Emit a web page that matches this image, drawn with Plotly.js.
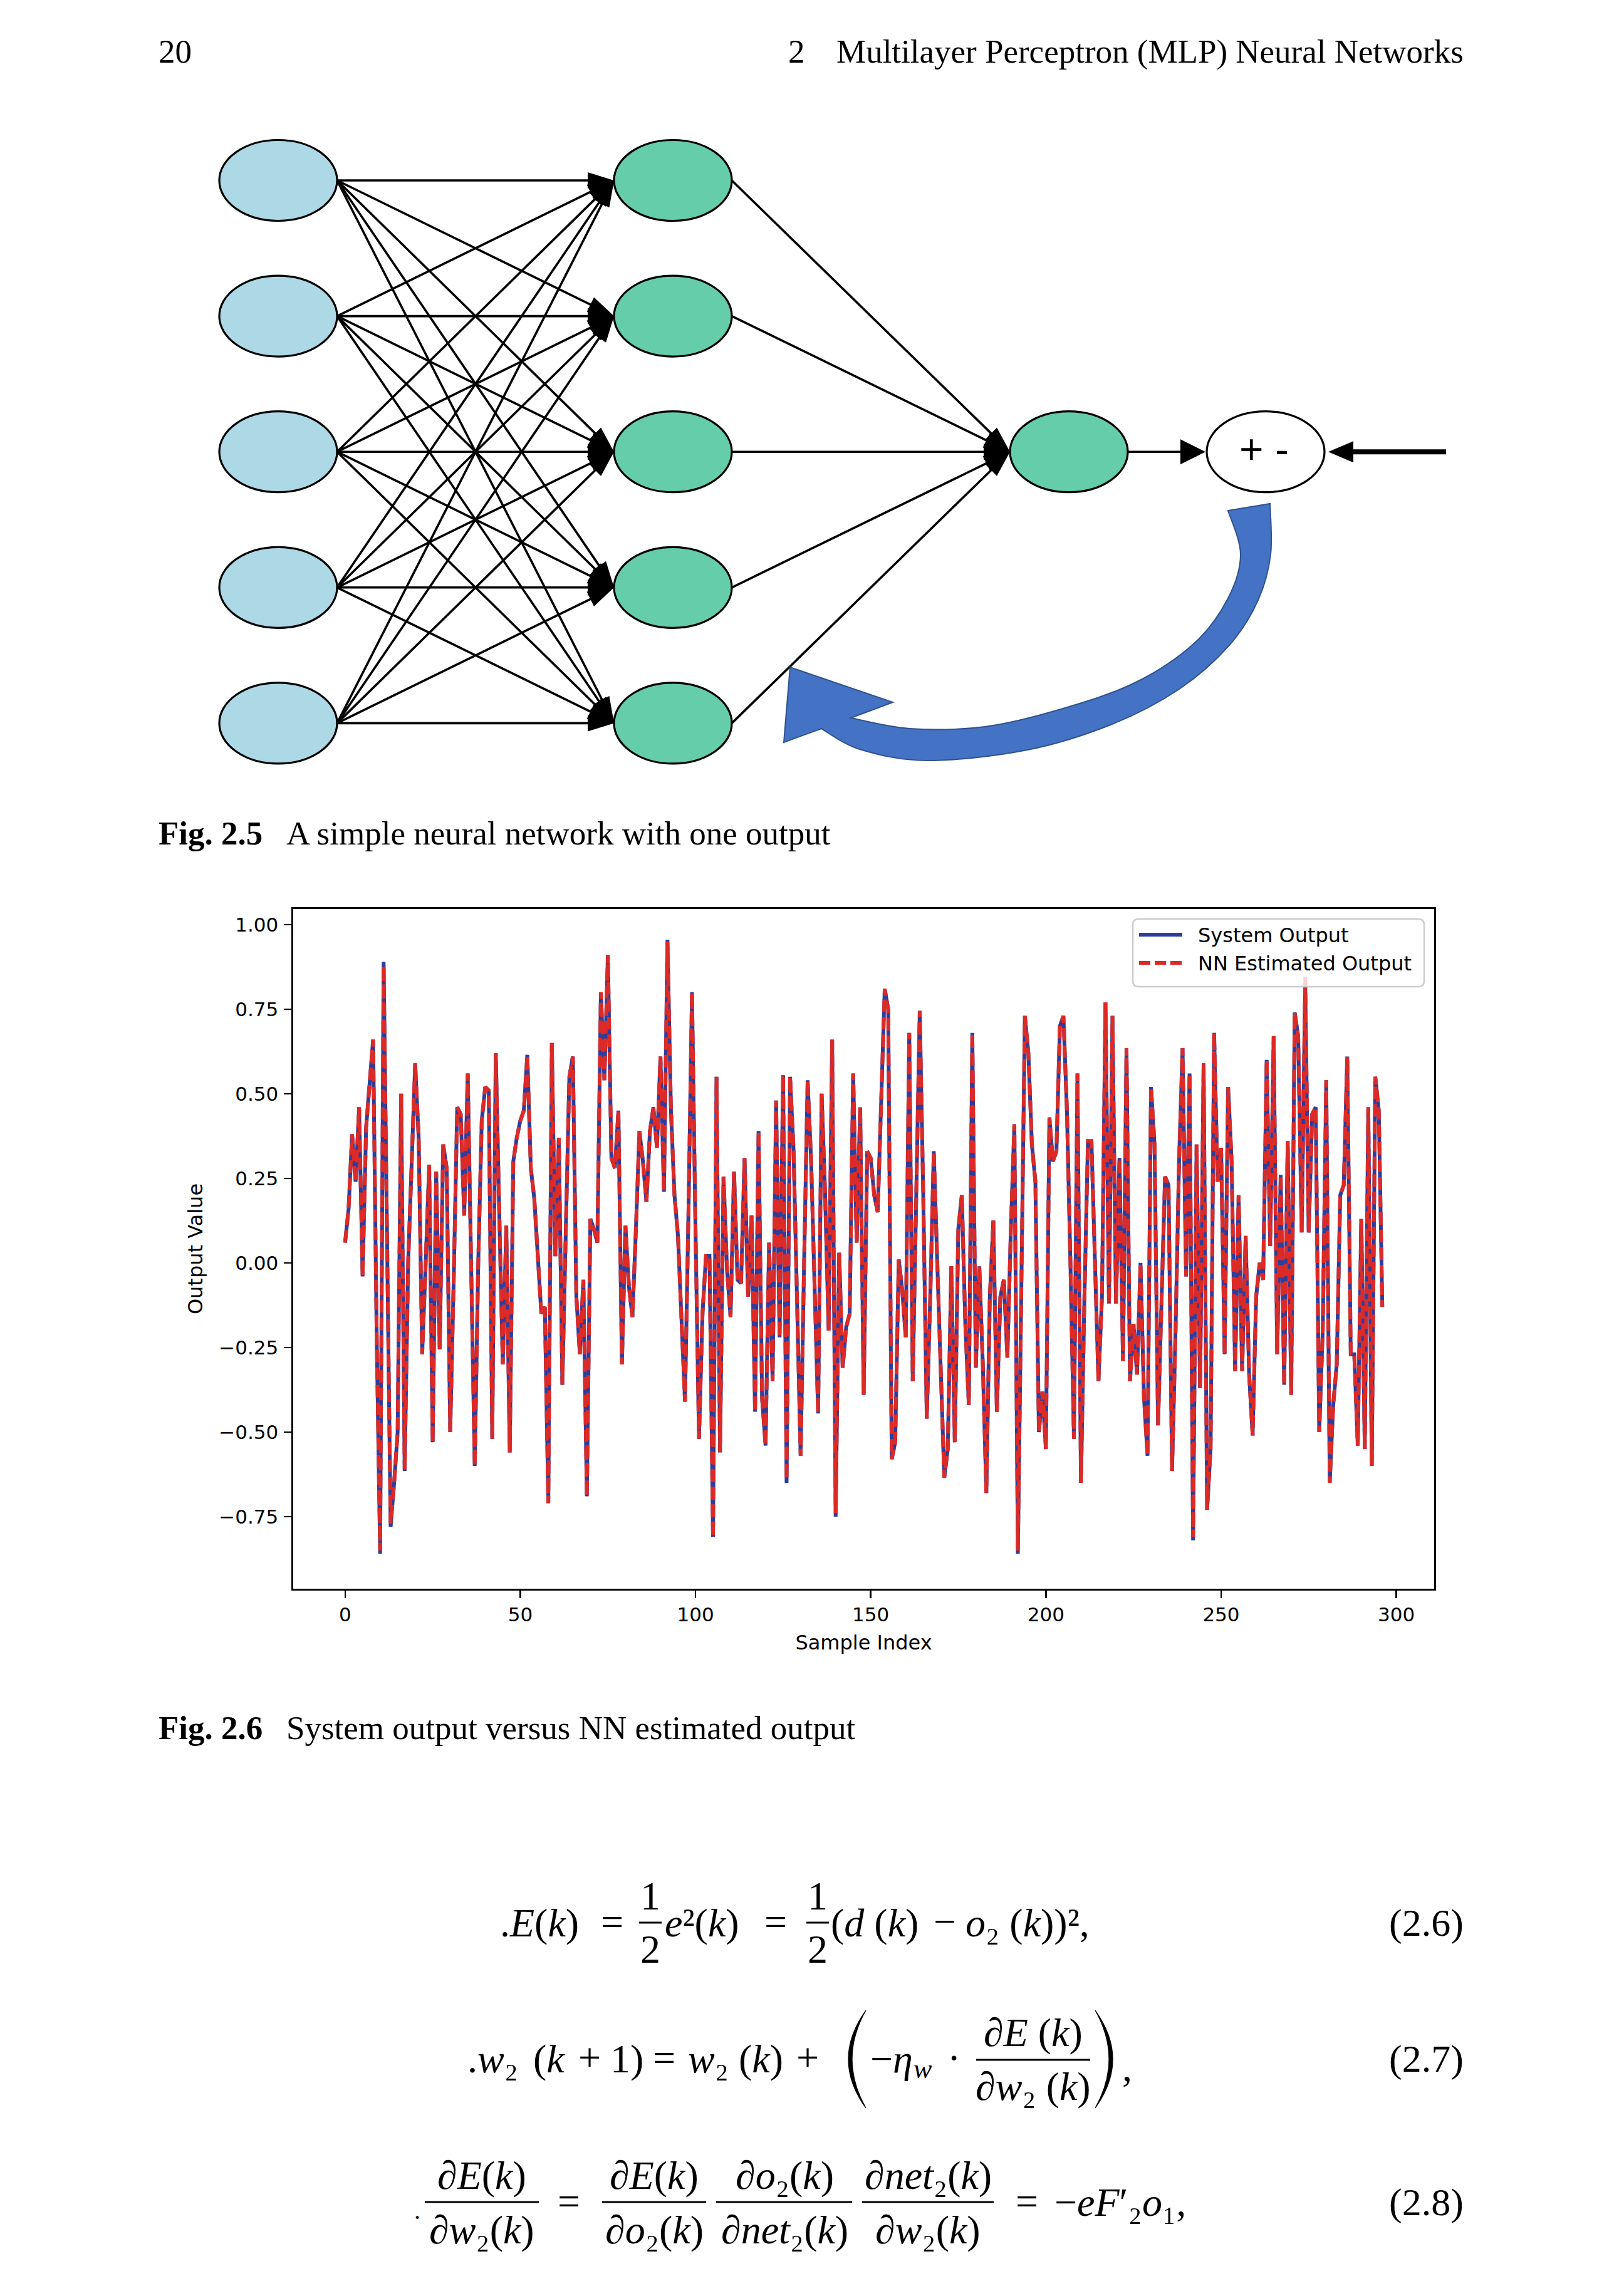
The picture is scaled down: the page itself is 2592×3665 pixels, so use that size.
<!DOCTYPE html>
<html>
<head>
<meta charset="utf-8">
<script src="https://cdn.plot.ly/plotly-3.0.1.min.js"></script>
<style>
  html, body { margin: 0; padding: 0; background: #ffffff; }
  #page { width: 2592px; height: 3665px; }
</style>
</head>
<body>
<div id="page"></div>
<script>
// ---------------- DATA ----------------
const seriesNames = ['System Output', 'NN Estimated Output'];
const sampleIndexTicks = [0, 50, 100, 150, 200, 250, 300];
const outputTicks = [-0.75, -0.5, -0.25, 0, 0.25, 0.5, 0.75, 1.0];
const outputTickLabels = ['\u22120.75', '\u22120.50', '\u22120.25', '0.00', '0.25', '0.50', '0.75', '1.00'];

const systemOutput = [
  0.06, 0.16, 0.38, 0.24, 0.46, -0.04, 0.40, 0.55, 0.66, -0.20,
  -0.86, 0.89, 0.05, -0.78, -0.65, -0.50, 0.50, -0.615, 0.00, 0.30,
  0.59, 0.37, -0.27, 0.00, 0.29, -0.53, 0.27, -0.255, 0.35, 0.28,
  -0.50, -0.05, 0.46, 0.44, 0.14, 0.56, -0.10, -0.60, 0.00, 0.42,
  0.52, 0.51, -0.52, 0.62, 0.15, -0.30, 0.11, -0.56, 0.30, 0.37,
  0.42, 0.45, 0.615, 0.28, 0.19, 0.00, -0.15, -0.13, -0.71, 0.65,
  0.02, 0.37, -0.36, 0.10, 0.55, 0.61, -0.10, -0.27, -0.05, -0.69,
  0.13, 0.10, 0.06, 0.80, 0.54, 0.91, 0.31, 0.28, 0.45, -0.30,
  0.11, -0.07, -0.16, 0.10, 0.39, 0.30, 0.18, 0.39, 0.46, 0.34,
  0.61, 0.21, 0.955, 0.45, 0.20, 0.08, -0.20, -0.41, 0.15, 0.80,
  0.10, -0.52, -0.15, 0.02, 0.02, -0.81, 0.55, -0.56, 0.255, -0.02,
  -0.16, 0.27, -0.05, -0.06, 0.31, -0.10, 0.14, -0.44, 0.39, -0.40,
  -0.54, 0.06, -0.35, 0.48, -0.22, 0.555, -0.65, 0.55, 0.33, -0.10,
  -0.57, 0.00, 0.54, 0.30, -0.05, -0.445, 0.50, 0.20, -0.20, 0.66,
  -0.75, 0.03, -0.31, -0.19, -0.15, 0.56, 0.06, 0.46, -0.39, 0.33,
  0.31, 0.20, 0.15, 0.50, 0.81, 0.75, -0.58, -0.53, 0.01, -0.08,
  -0.22, 0.68, -0.35, 0.20, 0.745, 0.20, -0.46, -0.10, 0.33, 0.00,
  -0.30, -0.635, -0.55, -0.01, -0.53, 0.10, 0.20, -0.18, -0.42, 0.68,
  -0.31, -0.01, -0.30, -0.68, -0.10, 0.125, -0.44, -0.10, -0.05, -0.28,
  0.10, 0.41, -0.86, -0.10, 0.73, 0.62, 0.35, 0.24, -0.50, -0.38,
  -0.55, 0.43, 0.30, 0.33, 0.70, 0.73, 0.45, 0.00, -0.52, 0.56,
  -0.65, -0.10, 0.36, 0.36, 0.00, -0.35, -0.10, 0.77, -0.12, 0.73,
  -0.12, 0.31, -0.29, 0.635, -0.35, -0.18, -0.33, 0.00, -0.40, -0.57,
  0.52, 0.35, -0.48, -0.10, 0.255, 0.23, -0.615, -0.20, 0.30, 0.635,
  -0.04, 0.56, -0.82, 0.35, -0.37, 0.59, -0.73, -0.55, 0.68, 0.24,
  0.34, -0.27, 0.52, 0.30, -0.32, 0.20, -0.32, 0.08, -0.33, -0.51,
  -0.10, 0.00, -0.05, 0.60, 0.05, 0.67, -0.27, 0.26, -0.36, 0.36,
  -0.39, 0.74, 0.67, 0.09, 0.82, 0.09, 0.44, 0.46, -0.50, -0.20,
  0.54, -0.65, -0.42, -0.30, 0.20, 0.23, 0.61, -0.27, -0.27, -0.54,
  0.13, -0.55, 0.46, -0.60, 0.55, 0.45, -0.13
];

const nnEstimatedOutput = [
  0.06, 0.16, 0.38, 0.24, 0.46, -0.04, 0.40, 0.55, 0.66, -0.20,
  -0.85, 0.88, 0.05, -0.77, -0.65, -0.50, 0.50, -0.61, 0.00, 0.30,
  0.59, 0.37, -0.27, 0.00, 0.29, -0.53, 0.27, -0.255, 0.35, 0.28,
  -0.50, -0.05, 0.46, 0.44, 0.14, 0.56, -0.10, -0.60, 0.00, 0.42,
  0.52, 0.51, -0.52, 0.62, 0.15, -0.30, 0.11, -0.56, 0.30, 0.37,
  0.42, 0.45, 0.615, 0.28, 0.19, 0.00, -0.15, -0.13, -0.71, 0.65,
  0.02, 0.37, -0.36, 0.10, 0.55, 0.61, -0.10, -0.27, -0.05, -0.69,
  0.13, 0.10, 0.06, 0.80, 0.54, 0.91, 0.31, 0.28, 0.45, -0.30,
  0.11, -0.07, -0.16, 0.10, 0.39, 0.30, 0.18, 0.39, 0.46, 0.34,
  0.61, 0.21, 0.95, 0.45, 0.20, 0.08, -0.20, -0.41, 0.15, 0.80,
  0.10, -0.52, -0.15, 0.02, 0.02, -0.81, 0.55, -0.56, 0.255, -0.02,
  -0.16, 0.27, -0.05, -0.06, 0.31, -0.10, 0.14, -0.44, 0.39, -0.40,
  -0.54, 0.06, -0.35, 0.48, -0.22, 0.555, -0.64, 0.55, 0.33, -0.10,
  -0.57, 0.00, 0.54, 0.30, -0.05, -0.445, 0.50, 0.20, -0.20, 0.66,
  -0.74, 0.03, -0.31, -0.19, -0.15, 0.56, 0.06, 0.46, -0.39, 0.33,
  0.31, 0.20, 0.15, 0.50, 0.81, 0.75, -0.58, -0.53, 0.01, -0.08,
  -0.22, 0.68, -0.35, 0.20, 0.745, 0.20, -0.46, -0.10, 0.33, 0.00,
  -0.30, -0.635, -0.55, -0.01, -0.53, 0.10, 0.20, -0.18, -0.42, 0.68,
  -0.31, -0.01, -0.30, -0.68, -0.10, 0.125, -0.44, -0.10, -0.05, -0.28,
  0.10, 0.41, -0.85, -0.10, 0.73, 0.62, 0.35, 0.24, -0.50, -0.38,
  -0.55, 0.43, 0.30, 0.33, 0.70, 0.73, 0.45, 0.00, -0.52, 0.56,
  -0.65, -0.10, 0.36, 0.36, 0.00, -0.35, -0.10, 0.77, -0.12, 0.73,
  -0.12, 0.31, -0.29, 0.635, -0.35, -0.18, -0.33, 0.00, -0.40, -0.57,
  0.52, 0.35, -0.48, -0.10, 0.255, 0.23, -0.615, -0.20, 0.30, 0.635,
  -0.04, 0.56, -0.81, 0.35, -0.37, 0.59, -0.73, -0.55, 0.68, 0.24,
  0.34, -0.27, 0.52, 0.30, -0.32, 0.20, -0.32, 0.08, -0.33, -0.51,
  -0.10, 0.00, -0.05, 0.60, 0.05, 0.67, -0.27, 0.26, -0.36, 0.36,
  -0.39, 0.74, 0.67, 0.09, 0.845, 0.09, 0.44, 0.46, -0.50, -0.20,
  0.54, -0.65, -0.42, -0.30, 0.20, 0.23, 0.61, -0.27, -0.27, -0.54,
  0.13, -0.55, 0.46, -0.60, 0.55, 0.45, -0.13
];

// neural-network diagram structure: neurons per layer (input, hidden, output)
const layerSizes = [5, 5, 1];

// ---------------- LAYOUT CONSTANTS ----------------
const W = 2592, H = 3665;
const BLUE = '#2e3d9b', RED = '#dc2a26';
const SERIF = '"Liberation Serif", "Times New Roman", "DejaVu Serif", serif';
const SANS = '"DejaVu Sans", "Bitstream Vera Sans", sans-serif';
const MATH = 64;
const PLOT = { x0: 468, x1: 2289, y0: 1451, y1: 2536 };
const DIAG = { top: 288, gap: 216.6, rx: 94, ry: 64.5, layerX: [444, 1074, 1706], sumX: 2020 };

const sampleIndex = systemOutput.map((_, i) => i);

const shapes = [];
const annotations = [];

// ---------------- helpers (pixel space on x2/y2) ----------------
function txt(text, x, y, o) {
  o = o || {};
  const font = Object.assign({ family: SERIF, size: MATH, color: '#000' }, o.font || {});
  const a = Object.assign({ xref: 'x2', yref: 'y2', x: x, y: y, text: text, showarrow: false,
    xanchor: 'left', yanchor: 'middle', borderpad: 0 }, o);
  a.font = font;
  annotations.push(a);
}
function hline(x0, x1, y, w, color) {
  shapes.push({ type: 'line', xref: 'x2', yref: 'y2', x0: x0, x1: x1, y0: y, y1: y,
    line: { color: color || '#000', width: w || 3 }, layer: 'above' });
}
function frac(cx, cy, num, den, bx0, bx1, dNum, dDen) {
  txt(num, cx, cy - (dNum || 43), { xanchor: 'center' });
  txt(den, cx, cy + (dDen || 43), { xanchor: 'center' });
  hline(bx0, bx1, cy, 3);
}
function arrowHead(x0, y0, x1, y1, len, half) {
  const dx = x1 - x0, dy = y1 - y0, L = Math.hypot(dx, dy);
  const ux = dx / L, uy = dy / L, nx = -uy, ny = ux;
  const bx = x1 - ux * len, by = y1 - uy * len;
  shapes.push({ type: 'path', xref: 'x2', yref: 'y2', layer: 'above',
    path: `M ${x1},${y1} L ${bx + nx * half},${by + ny * half} L ${bx - nx * half},${by - ny * half} Z`,
    fillcolor: '#000', line: { width: 0 } });
  return [bx + ux * 4, by + uy * 4];
}
function smooth(pts) {
  let d = '';
  for (let i = 0; i < pts.length - 1; i++) {
    const p0 = pts[i - 1] || pts[i], p1 = pts[i], p2 = pts[i + 1], p3 = pts[i + 2] || pts[i + 1];
    const c1 = [p1[0] + (p2[0] - p0[0]) / 6, p1[1] + (p2[1] - p0[1]) / 6];
    const c2 = [p2[0] - (p3[0] - p1[0]) / 6, p2[1] - (p3[1] - p1[1]) / 6];
    d += ` C ${c1[0]},${c1[1]} ${c2[0]},${c2[1]} ${p2[0]},${p2[1]}`;
  }
  return d;
}

// ---------------- DIAGRAM ----------------
function nodeY(l, k) {
  const n = layerSizes[l];
  return DIAG.top + DIAG.gap * ((layerSizes[0] - 1) / 2 - (n - 1) / 2 + k);
}
const edgeX = [], edgeY = [];
for (let l = 0; l < layerSizes.length - 1; l++) {
  for (let i = 0; i < layerSizes[l]; i++) {
    for (let j = 0; j < layerSizes[l + 1]; j++) {
      const x0 = DIAG.layerX[l] + DIAG.rx, y0 = nodeY(l, i);
      const x1 = DIAG.layerX[l + 1] - DIAG.rx, y1 = nodeY(l + 1, j);
      const e = arrowHead(x0, y0, x1, y1, 42, 13);
      edgeX.push(x0, e[0], null); edgeY.push(y0, e[1], null);
    }
  }
}
const outY = nodeY(2, 0);
// output -> comparator
{
  const x0 = DIAG.layerX[2] + DIAG.rx, x1 = DIAG.sumX - DIAG.rx - 2;
  const e = arrowHead(x0, outY, x1, outY, 40, 20);
  edgeX.push(x0, e[0], null); edgeY.push(outY, e[1], null);
}
// nodes
for (let l = 0; l < layerSizes.length; l++) {
  for (let k = 0; k < layerSizes[l]; k++) {
    const cx = DIAG.layerX[l], cy = nodeY(l, k);
    shapes.push({ type: 'circle', xref: 'x2', yref: 'y2', layer: 'above',
      x0: cx - DIAG.rx, x1: cx + DIAG.rx, y0: cy - DIAG.ry, y1: cy + DIAG.ry,
      fillcolor: l === 0 ? '#add8e6' : '#66cdaa', line: { color: '#000', width: 3.2 } });
  }
}
// comparator node
shapes.push({ type: 'circle', xref: 'x2', yref: 'y2', layer: 'above',
  x0: DIAG.sumX - DIAG.rx, x1: DIAG.sumX + DIAG.rx, y0: outY - DIAG.ry, y1: outY + DIAG.ry,
  fillcolor: '#ffffff', line: { color: '#000', width: 3.2 } });
txt('+ -', DIAG.sumX - 3, outY - 4, { xanchor: 'center', font: { family: '"Liberation Sans", Arial, sans-serif', size: 66 } });
// desired signal arrow (from right)
shapes.push({ type: 'line', xref: 'x2', yref: 'y2', layer: 'above', x0: 2308, x1: 2150, y0: outY, y1: outY,
  line: { color: '#000', width: 8 } });
arrowHead(2308, outY, DIAG.sumX + DIAG.rx + 6, outY, 40, 17);
// blue feedback arrow
{
  const outer = [[2027, 804], [2028, 885], [2008, 958], [1962, 1030], [1882, 1100], [1775, 1156], [1640, 1197], [1480, 1214], [1372, 1196], [1311, 1163]];
  const inner = [[1358, 1146], [1452, 1163], [1572, 1160], [1693, 1132], [1813, 1089], [1907, 1026], [1960, 955], [1980, 885], [1960, 815]];
  const path = `M 1960,815 L 2027,804` + smooth(outer) +
    ` L 1251,1185 L 1261,1065 L 1425,1121 L 1358,1146` + smooth(inner) + ' Z';
  shapes.push({ type: 'path', xref: 'x2', yref: 'y2', layer: 'above', path: path,
    fillcolor: '#4472c4', line: { color: '#2f528f', width: 2 } });
}

// ---------------- CUSTOM LEGEND ----------------
{
  const x0 = 1808, x1 = 2273, y0 = 1467, y1 = 1575, r = 9;
  shapes.push({ type: 'path', xref: 'x2', yref: 'y2', layer: 'above',
    path: `M ${x0 + r},${y0} L ${x1 - r},${y0} Q ${x1},${y0} ${x1},${y0 + r} L ${x1},${y1 - r} Q ${x1},${y1} ${x1 - r},${y1} L ${x0 + r},${y1} Q ${x0},${y1} ${x0},${y1 - r} L ${x0},${y0 + r} Q ${x0},${y0} ${x0 + r},${y0} Z`,
    fillcolor: 'rgba(255,255,255,0.8)', line: { color: '#cccccc', width: 2.5 } });
  shapes.push({ type: 'line', xref: 'x2', yref: 'y2', layer: 'above', x0: 1818, x1: 1887, y0: 1492, y1: 1492,
    line: { color: BLUE, width: 6 } });
  shapes.push({ type: 'line', xref: 'x2', yref: 'y2', layer: 'above', x0: 1818, x1: 1887, y0: 1537, y1: 1537,
    line: { color: RED, width: 6, dash: '18px,7px' } });
  txt(seriesNames[0], 1911, 1493, { font: { family: SANS, size: 32 } });
  txt(seriesNames[1], 1911, 1538, { font: { family: SANS, size: 32 } });
}

// ---------------- PAGE TEXT ----------------
const HF = { family: SERIF, size: 53 };
txt('20', 252, 82, { font: HF });
txt('2', 1257, 82, { font: HF });
txt('Multilayer Perceptron (MLP) Neural Networks', 2337, 82, { xanchor: 'right', font: HF });
txt('<b>Fig. 2.5</b>', 252, 1330, { font: HF });
txt('A simple neural network with one output', 456, 1330, { font: HF });
txt('<b>Fig. 2.6</b>', 252, 2758, { font: HF });
txt('System output versus NN estimated output', 456, 2758, { font: HF });

// ---------------- EQUATIONS ----------------
const NUMF = { size: 62 };
// (2.6)
let cy = 3069;
txt('.<i>E</i>(<i>k</i>)', 797, cy);
txt('=', 977, cy - 2, { xanchor: 'center' });
frac(1038, cy, '1', '2', 1020, 1056, 43, 42);
txt('<i>e</i>\u00b2(<i>k</i>)', 1060, cy);
txt('=', 1238, cy - 2, { xanchor: 'center' });
frac(1305, cy, '1', '2', 1287, 1323, 43, 42);
txt('(<i>d</i> (<i>k</i>)', 1325, cy);
txt('\u2212', 1508, cy - 2, { xanchor: 'center' });
txt('<i>o</i>\u2082 (<i>k</i>))\u00b2,', 1540, cy);
txt('(2.6)', 2337, cy, { xanchor: 'right', font: NUMF });
// (2.7)
cy = 3286;
txt('.<i>w</i>\u2082', 745, cy);
txt('(<i>k</i>', 850, cy);
txt('+', 941, cy - 2, { xanchor: 'center' });
txt('1)', 973, cy);
txt('=', 1060, cy - 2, { xanchor: 'center' });
txt('<i>w</i>\u2082', 1097, cy);
txt('(<i>k</i>)', 1178, cy);
txt('+', 1289, cy - 2, { xanchor: 'center' });
shapes.push({ type: 'path', xref: 'x2', yref: 'y2', layer: 'above',
  path: 'M 1382,3209 Q 1326,3287 1382,3365 Q 1338,3287 1382,3209 Z', fillcolor: '#000', line: { color: '#000', width: 1.2 } });
shapes.push({ type: 'path', xref: 'x2', yref: 'y2', layer: 'above',
  path: 'M 1748,3209 Q 1804,3287 1748,3365 Q 1792,3287 1748,3209 Z', fillcolor: '#000', line: { color: '#000', width: 1.2 } });
txt('\u2212<i>\u03b7</i>', 1388, cy);
txt('<i>w</i>', 1457, cy + 16, { font: { size: 44 } });
txt('\u00b7', 1522, cy - 2, { xanchor: 'center' });
frac(1649, 3288, '\u2202<i>E</i> (<i>k</i>)', '\u2202<i>w</i>\u2082 (<i>k</i>)', 1558, 1740, 44, 42);
txt(',', 1790, cy + 14);
txt('(2.7)', 2337, cy, { xanchor: 'right', font: NUMF });
// (2.8)
cy = 3515;
txt('.', 660, cy + 13, { font: { size: 40 } });
frac(769, cy, '\u2202<i>E</i>(<i>k</i>)', '\u2202<i>w</i>\u2082(<i>k</i>)', 678, 860, 43, 44);
txt('=', 908, cy - 2, { xanchor: 'center' });
frac(1044, cy, '\u2202<i>E</i>(<i>k</i>)', '\u2202<i>o</i>\u2082(<i>k</i>)', 961, 1127, 43, 44);
frac(1252, cy, '\u2202<i>o</i>\u2082(<i>k</i>)', '\u2202<i>net</i>\u2082(<i>k</i>)', 1143, 1360, 43, 44);
frac(1481, cy, '\u2202<i>net</i>\u2082(<i>k</i>)', '\u2202<i>w</i>\u2082(<i>k</i>)', 1376, 1586, 43, 44);
txt('=', 1639, cy - 2, { xanchor: 'center' });
txt('\u2212<i>eF</i>\u2032\u2082<i>o</i>\u2081,', 1682, cy);
txt('(2.8)', 2337, cy, { xanchor: 'right', font: NUMF });

// ---------------- TRACES ----------------
const traces = [
  { type: 'scatter', mode: 'lines', x: sampleIndex, y: systemOutput, name: seriesNames[0],
    line: { color: BLUE, width: 6 }, xaxis: 'x', yaxis: 'y', showlegend: false, hoverinfo: 'skip' },
  { type: 'scatter', mode: 'lines', x: sampleIndex, y: nnEstimatedOutput, name: seriesNames[1],
    line: { color: RED, width: 6, dash: '20px,8px' }, xaxis: 'x', yaxis: 'y', showlegend: false, hoverinfo: 'skip' },
  { type: 'scatter', mode: 'lines', x: edgeX, y: edgeY, xaxis: 'x2', yaxis: 'y2',
    line: { color: '#000', width: 3.6 }, showlegend: false, hoverinfo: 'skip', connectgaps: false }
];

const layout = {
  width: W, height: H,
  margin: { l: 0, r: 0, t: 0, b: 0, pad: 0 },
  paper_bgcolor: '#ffffff', plot_bgcolor: 'rgba(0,0,0,0)',
  showlegend: false,
  xaxis: {
    domain: [PLOT.x0 / W, PLOT.x1 / W], range: [-14.8, 310.8], anchor: 'y',
    tickmode: 'array', tickvals: sampleIndexTicks,
    ticks: 'outside', ticklen: 12, tickwidth: 2.5, tickcolor: '#000',
    showline: true, linewidth: 2.6, linecolor: '#000', mirror: true,
    showgrid: false, zeroline: false, automargin: false, ticklabelstandoff: 0,
    tickfont: { family: SANS, size: 31, color: '#000' },
    title: { text: 'Sample Index', font: { family: SANS, size: 32, color: '#000' }, standoff: 17 }
  },
  yaxis: {
    domain: [1 - PLOT.y1 / H, 1 - PLOT.y0 / H], range: [-0.963, 1.046], anchor: 'x',
    tickmode: 'array', tickvals: outputTicks, ticktext: outputTickLabels,
    ticks: 'outside', ticklen: 12, tickwidth: 2.5, tickcolor: '#000',
    showline: true, linewidth: 2.6, linecolor: '#000', mirror: true,
    showgrid: false, zeroline: false, automargin: false, ticklabelstandoff: 3,
    tickfont: { family: SANS, size: 31, color: '#000' },
    title: { text: 'Output Value', font: { family: SANS, size: 32, color: '#000' }, standoff: 16 }
  },
  xaxis2: { domain: [0, 1], range: [0, W], anchor: 'y2', visible: false, fixedrange: true },
  yaxis2: { domain: [0, 1], range: [H, 0], anchor: 'x2', visible: false, fixedrange: true },
  shapes: shapes,
  annotations: annotations
};

Plotly.newPlot('page', traces, layout, { staticPlot: true, displayModeBar: false });
</script>
</body>
</html>
